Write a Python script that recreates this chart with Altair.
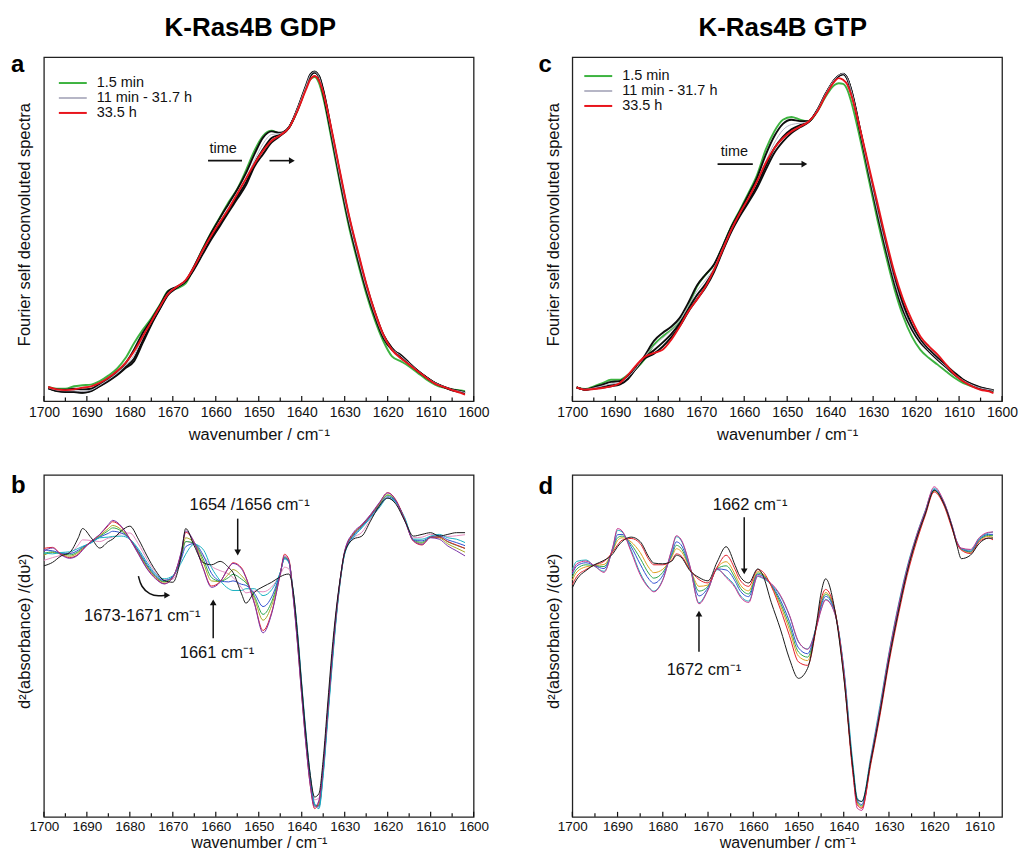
import altair as alt
import pandas as pd

# ---------------- data (y in % of plot height) ----------------
TOP_WN = [1699, 1697, 1695, 1693, 1691, 1689, 1687, 1685, 1683, 1681,
          1679, 1677, 1675, 1673, 1671, 1669, 1667, 1665, 1663, 1661,
          1659, 1657, 1655, 1653, 1651, 1649, 1647, 1645, 1643, 1641,
          1639, 1638, 1637, 1636, 1635,
          1633, 1631, 1629, 1627, 1625, 1623, 1621, 1619, 1617, 1615,
          1613, 1611, 1609, 1607, 1605, 1603, 1602]

# panel a : K-Ras4B GDP, FSD spectra
A_GREEN = [4.1, 3.6, 3.6, 4.3, 4.6, 4.8, 5.8, 7.4, 9.4, 12.5,
           16.9, 20.7, 24.1, 28.0, 32.1, 32.8, 34.2, 39.1, 44.4, 49.2,
           53.5, 57.9, 61.7, 67.0, 72.8, 77.1, 78.6, 77.8, 79.4, 84.4,
           91.1, 93.5, 94.2, 92.5, 88.2,
           75.7, 62.7, 50.6, 40.5, 31.3, 23.6, 17.4, 13.0, 11.6, 10.1,
           8.2, 6.3, 4.8, 3.9, 3.4, 3.1, 2.9]
A_K1 = [4.0, 3.4, 3.3, 3.6, 3.4, 3.6, 5.0, 6.6, 8.6, 11.0,
        15.0, 19.8, 23.6, 27.8, 32.0, 33.3, 35.0, 39.3, 44.2, 49.0,
        53.3, 57.4, 61.5, 66.2, 71.8, 76.6, 78.4, 78.0, 79.6, 85.0,
        91.8, 95.0, 95.8, 94.1, 89.2,
        76.7, 63.6, 51.6, 41.5, 32.3, 24.6, 18.3, 14.9, 13.5, 11.1,
        8.8, 6.9, 5.3, 4.2, 3.4, 2.9, 2.6]
A_W = [3.9, 3.2, 3.0, 3.0, 2.8, 3.2, 4.6, 6.2, 8.0, 10.3,
       13.4, 18.5, 23.0, 27.3, 31.6, 33.2, 35.0, 39.0, 43.6, 48.2,
       52.4, 56.3, 60.3, 64.6, 70.0, 74.8, 77.5, 77.8, 79.6, 85.0,
       91.6, 94.8, 95.7, 94.3, 89.8,
       77.4, 64.4, 52.4, 42.3, 33.0, 25.2, 18.8, 15.2, 13.2, 11.0,
       8.8, 6.9, 5.3, 4.2, 3.3, 2.8, 2.5]
A_K2 = [3.8, 3.0, 2.8, 2.7, 2.5, 3.0, 4.4, 6.0, 7.7, 9.9,
        12.4, 17.6, 22.6, 27.0, 31.3, 33.1, 34.9, 38.7, 43.2, 47.6,
        51.7, 55.6, 59.5, 63.5, 69.0, 73.2, 76.5, 77.5, 79.5, 84.8,
        91.4, 94.6, 95.6, 94.5, 90.2,
        77.8, 65.0, 53.0, 42.8, 33.5, 25.6, 19.1, 15.3, 13.0, 10.9,
        8.8, 6.9, 5.2, 4.1, 3.2, 2.7, 2.4]
A_K3 = [3.7, 2.9, 2.6, 2.6, 2.4, 2.9, 4.3, 5.8, 7.5, 9.6,
        11.6, 16.9, 22.2, 26.8, 31.0, 33.0, 34.8, 38.4, 42.8, 47.1,
        51.0, 55.0, 58.8, 62.7, 68.2, 71.8, 75.2, 77.1, 79.4, 84.6,
        91.2, 94.5, 95.5, 94.6, 90.5,
        78.2, 65.5, 53.5, 43.3, 33.9, 25.9, 19.3, 15.4, 12.8, 10.8,
        8.7, 6.9, 5.2, 4.1, 3.1, 2.6, 2.3]
A_RED = [4.1, 3.4, 3.2, 3.4, 3.9, 4.3, 5.3, 6.8, 8.7, 11.1,
         14.5, 18.8, 23.1, 27.5, 31.3, 33.3, 35.2, 39.1, 43.9, 48.2,
         52.1, 55.9, 60.3, 64.6, 69.0, 72.8, 75.7, 77.3, 79.4, 84.4,
         90.6, 93.5, 94.5, 93.2, 89.7,
         78.6, 66.1, 54.0, 43.9, 34.2, 26.0, 19.3, 14.9, 12.5, 10.6,
         8.7, 6.8, 5.1, 4.1, 3.2, 2.4, 1.9]

# panel c : K-Ras4B GTP, FSD spectra
C_GREEN = [4.0, 3.5, 4.3, 5.2, 6.2, 6.2, 7.7, 9.6, 12.5, 16.4,
           18.8, 20.7, 23.2, 27.5, 33.3, 36.7, 39.6, 45.0, 50.8, 55.6,
           60.5, 65.8, 73.1, 78.4, 81.8, 82.6, 81.8, 81.3, 84.2, 88.6,
           91.9, 92.4, 92.2, 90.5, 86.6,
           76.0, 64.3, 52.7, 42.1, 32.4, 24.6, 18.8, 14.9, 12.5, 10.6,
           8.6, 6.7, 5.2, 4.3, 3.5, 3.1, 3.0]
C_K1 = [4.0, 3.4, 4.0, 4.8, 5.6, 5.8, 7.4, 9.8, 13.5, 17.5,
        19.8, 21.6, 24.2, 28.6, 33.6, 36.8, 39.8, 45.0, 50.6, 55.2,
        60.0, 65.0, 71.6, 77.0, 80.6, 81.8, 81.4, 81.4, 84.6, 89.4,
        93.4, 94.6, 95.2, 93.6, 89.5,
        78.0, 66.0, 54.4, 43.8, 34.0, 26.2, 20.8, 17.0, 14.4, 12.0,
        9.8, 7.6, 5.8, 4.6, 3.7, 3.2, 3.0]
C_W = [4.0, 3.4, 3.8, 4.4, 5.0, 5.3, 7.0, 9.8, 13.2, 16.0,
       18.3, 20.5, 23.4, 27.6, 32.0, 35.2, 38.8, 44.4, 50.0, 54.6,
       59.0, 63.6, 69.6, 75.0, 78.8, 80.4, 80.8, 81.3, 84.6, 89.5,
       93.5, 94.7, 95.2, 93.8, 89.8,
       78.4, 66.6, 55.2, 44.6, 34.8, 27.0, 21.4, 17.4, 14.6, 12.2,
       10.0, 7.8, 6.0, 4.7, 3.8, 3.3, 3.1]
C_K2 = [4.0, 3.3, 3.7, 4.1, 4.6, 5.0, 6.7, 9.8, 12.8, 14.8,
        17.0, 19.5, 22.6, 26.8, 30.8, 34.0, 38.2, 44.0, 49.6, 54.2,
        58.4, 62.8, 68.3, 73.5, 76.8, 79.0, 80.2, 81.2, 84.5, 89.4,
        93.4, 94.6, 95.1, 93.8, 90.0,
        78.6, 67.0, 55.8, 45.2, 35.4, 27.6, 21.8, 17.6, 14.8, 12.4,
        10.2, 8.0, 6.1, 4.8, 3.9, 3.3, 3.1]
C_K3 = [4.0, 3.3, 3.6, 3.9, 4.3, 4.8, 6.5, 9.8, 12.5, 13.8,
        15.8, 18.5, 21.8, 26.0, 29.6, 33.0, 37.6, 43.6, 49.2, 53.8,
        57.8, 62.0, 67.2, 72.1, 75.4, 77.9, 79.6, 81.1, 84.4, 89.3,
        93.3, 94.5, 95.0, 93.8, 90.1,
        78.8, 67.4, 56.4, 45.8, 36.0, 28.2, 22.2, 17.8, 15.0, 12.6,
        10.4, 8.2, 6.2, 4.9, 4.0, 3.4, 3.2]
C_RED = [4.0, 3.3, 3.5, 3.8, 4.3, 5.2, 7.7, 10.6, 13.0, 14.0,
         14.9, 17.8, 21.7, 26.1, 29.5, 33.3, 38.2, 44.0, 49.8, 54.7,
         59.0, 63.9, 69.2, 73.5, 76.4, 78.4, 79.8, 81.3, 84.2, 89.0,
         92.9, 93.9, 93.4, 92.0, 88.6,
         78.9, 68.2, 57.6, 46.9, 37.2, 29.5, 23.6, 18.8, 15.9, 13.5,
         10.6, 7.7, 5.7, 4.3, 3.3, 2.8, 2.3]

# panel b : K-Ras4B GDP, second derivative spectra
B_WN = [1700, 1698, 1696, 1694, 1692, 1691, 1689, 1687, 1685, 1684,
        1682, 1680, 1678, 1676, 1674, 1672, 1670, 1668, 1667, 1665,
        1663, 1661, 1659, 1657, 1656, 1654, 1653, 1651, 1649, 1647,
        1645, 1644, 1643, 1642, 1641, 1640, 1639, 1638, 1637, 1636,
        1635, 1634, 1633, 1632, 1631, 1630, 1628, 1626, 1624, 1622,
        1620, 1618, 1616, 1614, 1612, 1610, 1608, 1606, 1604, 1602]
B_PURPLE = [77.8, 78.6, 76.6, 75.6, 76.6, 78.0, 80.5, 82.6, 85.5, 86.7,
            85.0, 81.2, 76.8, 72.5, 69.6, 68.1, 70.0, 77.8, 83.6, 80.2,
            72.9, 67.1, 68.6, 72.9, 74.1, 72.5, 70.0, 62.3, 53.8, 59.4,
            71.0, 76.3, 74.9, 64.3, 50.7, 35.3, 20.8, 9.2, 2.9, 4.8,
            15.0, 30.4, 45.9, 59.4, 70.0, 77.8, 83.1, 85.5, 88.4, 91.8,
            94.7, 92.3, 86.5, 80.7, 79.7, 81.6, 81.2, 79.2, 77.8, 76.3]
B_RED = [78.5, 78.8, 76.8, 75.8, 76.8, 78.2, 80.6, 82.5, 85.2, 86.3,
         84.8, 81.3, 77.0, 72.7, 69.8, 68.2, 70.0, 77.5, 83.2, 80.2,
         73.0, 67.5, 68.8, 72.8, 74.3, 72.8, 70.2, 62.5, 54.5, 59.8,
         71.0, 76.8, 75.3, 64.8, 51.0, 35.6, 21.0, 9.0, 2.4, 4.5,
         14.8, 30.0, 45.5, 59.0, 69.8, 77.6, 82.8, 85.3, 88.2, 91.6,
         94.8, 92.5, 86.8, 80.6, 79.5, 81.8, 81.8, 80.5, 79.5, 78.5]
B_OLIVE = [76.5, 77.3, 76.8, 76.2, 77.3, 78.5, 80.4, 82.2, 84.3, 85.2,
           84.0, 81.2, 77.3, 73.2, 70.1, 68.6, 70.2, 76.9, 81.6, 80.0,
           74.7, 69.0, 68.8, 71.0, 72.3, 70.5, 69.0, 63.8, 57.5, 61.8,
           71.2, 75.9, 74.7, 64.9, 51.9, 36.4, 21.9, 10.0, 3.2, 3.7,
           13.9, 29.3, 44.8, 58.6, 69.6, 77.4, 82.6, 85.2, 88.1, 91.4,
           94.2, 92.2, 86.8, 80.8, 80.0, 81.7, 81.6, 79.8, 78.6, 77.4]
B_GREEN = [77.0, 77.5, 77.0, 76.6, 77.6, 78.7, 80.3, 82.0, 83.7, 84.5,
           83.6, 81.2, 77.5, 73.4, 70.3, 68.8, 70.2, 76.4, 80.5, 80.0,
           75.6, 70.0, 68.9, 70.0, 70.9, 69.5, 68.5, 64.5, 59.2, 62.9,
           71.3, 75.8, 74.6, 65.2, 52.6, 37.1, 22.6, 10.6, 3.4, 3.3,
           13.4, 28.9, 44.4, 58.4, 69.5, 77.3, 82.4, 85.0, 87.9, 91.1,
           94.0, 92.1, 86.9, 80.9, 80.3, 81.8, 81.9, 80.4, 79.4, 78.5]
B_BLUE = [78.0, 77.8, 77.1, 77.0, 78.0, 78.9, 80.2, 81.8, 82.9, 83.5,
          83.0, 81.2, 77.8, 73.8, 70.6, 69.1, 70.3, 75.6, 79.0, 79.9,
          76.7, 71.2, 69.0, 68.7, 69.0, 68.0, 67.7, 65.3, 61.5, 64.3,
          71.4, 75.6, 74.5, 65.6, 53.4, 37.9, 23.3, 11.2, 3.6, 2.9,
          12.9, 28.4, 43.9, 58.1, 69.4, 77.1, 82.1, 84.8, 87.8, 90.8,
          93.6, 92.0, 87.1, 81.0, 80.7, 81.9, 82.2, 81.0, 80.2, 79.3]
B_CYAN = [77.2, 76.9, 77.3, 77.5, 78.5, 79.1, 80.1, 81.6, 81.8, 82.0,
          82.1, 81.2, 78.3, 74.4, 71.0, 69.6, 70.5, 74.4, 76.8, 79.7,
          78.3, 72.9, 69.1, 66.7, 66.2, 66.2, 66.7, 66.7, 64.7, 66.4,
          71.5, 75.4, 74.4, 66.2, 54.6, 39.1, 24.6, 12.1, 3.9, 2.4,
          12.1, 27.5, 43.0, 57.5, 69.1, 76.8, 81.6, 84.5, 87.4, 90.3,
          93.2, 91.8, 87.4, 81.2, 81.2, 82.1, 82.6, 81.6, 81.2, 80.2]
B_PINK = [75.0, 75.8, 76.5, 77.0, 79.5, 81.0, 80.8, 80.5, 81.5, 81.8,
          82.8, 83.0, 79.8, 75.3, 71.5, 69.3, 69.5, 75.6, 80.5, 79.5,
          76.4, 73.3, 72.0, 71.0, 70.0, 67.0, 65.5, 66.0, 65.8, 67.2,
          70.8, 73.0, 72.5, 66.0, 54.0, 38.5, 24.0, 12.0, 5.0, 5.5,
          15.0, 30.0, 45.5, 59.0, 69.6, 77.0, 81.5, 83.2, 87.0, 90.5,
          93.2, 91.5, 86.8, 81.6, 81.8, 82.6, 82.3, 82.0, 82.2, 82.5]
B_BLACK = [73.4, 74.4, 76.3, 77.3, 81.6, 84.3, 81.6, 78.6, 80.5, 81.2,
           83.6, 85.0, 81.2, 76.3, 72.0, 69.1, 68.6, 76.8, 84.3, 79.2,
           74.4, 73.7, 74.7, 72.9, 71.5, 65.2, 62.5, 65.7, 67.3, 68.6,
           70.2, 70.8, 71.0, 66.2, 53.6, 38.2, 23.7, 12.1, 5.8, 6.8,
           16.9, 32.4, 47.8, 60.4, 70.0, 77.3, 81.2, 82.1, 86.5, 90.8,
           93.2, 91.3, 86.5, 82.1, 82.6, 83.1, 82.1, 82.6, 83.1, 83.1]

# panel d : K-Ras4B GTP, second derivative spectra
D_WN = [1700, 1699, 1697, 1695, 1693, 1691, 1690, 1689, 1687, 1685,
        1683, 1682, 1680, 1678, 1677, 1676, 1674, 1672, 1670, 1668,
        1666, 1664, 1663, 1661, 1659, 1658, 1656, 1654, 1652, 1650,
        1648, 1646, 1645, 1644, 1642, 1640, 1638, 1637, 1636, 1634,
        1632, 1630, 1628, 1626, 1624, 1622, 1620, 1618, 1616, 1615,
        1614, 1612, 1610, 1608, 1607]
D_RED = [67.9, 70.3, 72.3, 73.7, 74.7, 77.6, 79.5, 80.9, 81.4, 79.9,
         75.1, 73.7, 73.7, 75.1, 76.9, 76.4, 72.3, 69.4, 68.4, 73.0,
         76.5, 72.3, 69.4, 67.4, 72.3, 71.8, 67.4, 60.7, 53.0, 45.3,
         44.3, 55.9, 63.6, 66.5, 60.7, 41.4, 13.0, 3.5, 2.5, 15.5,
         29.5, 45.0, 58.5, 70.5, 80.0, 88.0, 95.0, 91.5, 84.0, 80.0,
         78.0, 77.0, 80.5, 81.5, 81.0]
D_ORANGE = [69.2, 71.6, 73.1, 73.5, 73.8, 78.0, 80.8, 81.6, 80.4, 77.3,
            72.7, 71.4, 72.4, 76.0, 78.4, 77.7, 72.6, 67.4, 67.8, 72.8,
            74.6, 70.8, 68.1, 66.1, 71.7, 71.2, 67.6, 61.8, 54.7, 47.0,
            45.7, 55.9, 62.7, 65.6, 60.4, 42.0, 13.8, 4.0, 2.8, 16.0,
            30.2, 45.9, 59.4, 71.3, 80.6, 88.5, 95.3, 91.8, 84.3, 80.2,
            78.2, 77.3, 80.8, 82.0, 81.7]
D_GREEN = [70.1, 72.5, 73.7, 73.4, 73.2, 78.3, 81.6, 82.1, 79.7, 75.6,
           71.0, 69.8, 71.5, 76.5, 79.4, 78.6, 72.7, 66.0, 67.4, 72.6,
           73.4, 69.8, 67.2, 65.2, 71.3, 70.8, 67.7, 62.6, 55.9, 48.2,
           46.7, 55.9, 62.2, 65.1, 60.2, 42.5, 14.3, 4.4, 3.2, 16.4,
           30.7, 46.5, 60.0, 71.8, 81.0, 88.8, 95.5, 92.0, 84.5, 80.3,
           78.3, 77.5, 81.0, 82.3, 82.2]
D_BLUE = [71.0, 73.4, 74.3, 73.4, 72.6, 78.6, 82.5, 82.6, 79.0, 73.9,
          69.4, 68.3, 70.6, 77.1, 80.4, 79.6, 72.9, 64.6, 67.0, 72.5,
          72.2, 68.9, 66.3, 64.4, 70.9, 70.4, 67.8, 63.4, 57.1, 49.4,
          47.7, 55.9, 61.6, 64.5, 60.0, 43.0, 14.8, 4.8, 3.6, 16.8,
          31.2, 47.1, 60.6, 72.3, 81.4, 89.1, 95.7, 92.2, 84.7, 80.4,
          78.4, 77.7, 81.2, 82.6, 82.6]
D_CYAN = [72.3, 74.7, 75.1, 73.2, 71.8, 79.0, 83.8, 83.3, 78.0, 71.3,
          67.0, 66.0, 69.4, 78.0, 81.9, 80.9, 73.2, 62.6, 66.5, 72.3,
          70.3, 67.4, 65.0, 63.1, 70.3, 69.8, 67.9, 64.5, 58.8, 51.1,
          49.1, 55.9, 60.7, 63.6, 59.7, 43.8, 16.0, 5.5, 4.5, 17.8,
          32.5, 48.0, 61.5, 73.0, 82.0, 89.5, 96.0, 92.5, 85.0, 80.5,
          78.5, 78.0, 81.5, 83.0, 83.3]
D_MAGENTA = [71.5, 74.0, 74.8, 73.3, 71.5, 79.2, 84.3, 83.6, 77.5, 70.8,
             66.8, 65.8, 69.2, 78.3, 82.2, 81.2, 73.4, 62.3, 66.3, 72.5,
             70.0, 67.0, 64.6, 62.7, 70.5, 70.0, 68.2, 64.8, 59.0, 51.3,
             49.0, 55.5, 60.5, 63.4, 59.5, 43.0, 13.5, 2.5, 1.9, 17.0,
             31.5, 47.5, 61.0, 72.5, 81.8, 89.3, 96.5, 92.6, 85.0, 80.5,
             78.6, 78.2, 81.7, 83.2, 83.3]
D_BLACK = [67.0, 69.5, 72.0, 73.8, 75.0, 77.0, 79.0, 80.5, 81.8, 80.5,
           75.8, 74.2, 74.0, 74.8, 76.5, 76.0, 72.0, 70.0, 69.0, 74.5,
           79.0, 73.5, 70.5, 68.4, 72.5, 71.0, 62.6, 54.9, 46.2, 40.5,
           43.4, 56.8, 65.5, 69.6, 60.7, 41.0, 14.5, 5.0, 4.5, 16.5,
           30.5, 46.0, 59.5, 71.5, 81.0, 88.5, 95.5, 92.0, 84.5, 79.5,
           75.5, 76.5, 80.0, 81.5, 81.5]

SERIES = ["1.5 min", "11 min - 31.7 h", "33.5 h"]
SERIES_COLORS = ["#3db340", "#b6b6c6", "#e8141c"]

FONT = "Liberation Sans"
INK = "#111111"
TOP_H = 345
BOT_H = 343


def long_df(wn, named, series=None):
    rows = []
    for name, vals in named:
        for w, v in zip(wn, vals):
            rows.append({"wn": w, "v": v, "curve": name, "series": series})
    return pd.DataFrame(rows)


def encoders(domain, label_vals, ytitle, ytitle_y, label_size, label_pad, title_pad, title_size):
    sc_x = alt.Scale(domain=domain, reverse=True, nice=False, zero=False)
    ax_x = alt.Axis(values=label_vals, format="d", ticks=False, domain=False, grid=False,
                    labelFontSize=label_size, labelFont=FONT, labelColor=INK, labelPadding=label_pad,
                    labelFlush=False, labelOverlap=False,
                    title="wavenumber / cm\u207b\u00b9", titleFont=FONT, titleFontSize=title_size,
                    titleFontWeight="normal", titleColor=INK, titlePadding=title_pad)
    sc_y = alt.Scale(domain=[0, 100], nice=False, zero=False)
    ax_y = alt.Axis(labels=False, ticks=False, domain=False, grid=False,
                    title=ytitle, titleFont=FONT, titleFontSize=16.5, titleFontWeight="normal",
                    titleColor=INK, titlePadding=11, titleY=ytitle_y)

    def X(f):
        return alt.X(f"{f}:Q", scale=sc_x, axis=ax_x)

    def Y(f):
        return alt.Y(f"{f}:Q", scale=sc_y, axis=ax_y)
    return X, Y


def tick_layers(X, tick_vals, height):
    df = pd.DataFrame({"wn": tick_vals})
    major = df[df["wn"] % 10 == 0]
    minor = df[df["wn"] % 10 != 0]
    l1 = alt.Chart(major).mark_rule(color=INK, strokeWidth=1.2).encode(
        x=X("wn"), y=alt.value(height), y2=alt.value(height - 5))
    l2 = alt.Chart(minor).mark_rule(color=INK, strokeWidth=1.2).encode(
        x=X("wn"), y=alt.value(height), y2=alt.value(height - 3.5))
    return [l1, l2]


def label_layer(text, x, y, size, align="left"):
    return alt.Chart(pd.DataFrame({"t": [text]})).mark_text(
        font=FONT, fontSize=size, fontWeight="bold", color="black",
        align=align, baseline="top").encode(
        text="t:N", x=alt.value(x), y=alt.value(y))


def top_panel(letter, lx, ly, heading, hx, green, blacks, greys, red,
              time_pos, time_line, time_arrow, width, leg_x, leg_y, row_pad):
    height = TOP_H
    X, Y = encoders([1600, 1700], list(range(1600, 1701, 10)),
                    "Fourier self deconvoluted spectra", height / 2 - 5, 14, 4, 8, 16.5)
    cscale = alt.Scale(domain=SERIES, range=SERIES_COLORS)
    legend = alt.Legend(title=None, orient="none", legendX=leg_x, legendY=leg_y,
                        symbolType="M-2,0H2", symbolSize=196, symbolStrokeWidth=2,
                        labelFont=FONT, labelFontSize=14.5, labelColor=INK,
                        labelOffset=16, rowPadding=row_pad, padding=0)
    col = alt.Color("series:N", scale=cscale, legend=legend)

    g_df = long_df(TOP_WN, [("green", green)], SERIES[0])
    k_df = long_df(TOP_WN, blacks, SERIES[1])
    w_df = long_df(TOP_WN, greys, SERIES[1])
    r_df = long_df(TOP_WN, [("red", red)], SERIES[2])

    layers = []
    layers.append(alt.Chart(g_df).mark_line(interpolate="monotone", strokeWidth=1.9).encode(
        x=X("wn"), y=Y("v"), color=col, detail="curve:N"))
    layers.append(alt.Chart(k_df).mark_line(interpolate="monotone", strokeWidth=1.9, color="#0d0d0d").encode(
        x=X("wn"), y=Y("v"), detail="curve:N"))
    layers.append(alt.Chart(w_df).mark_line(interpolate="monotone", strokeWidth=1.0).encode(
        x=X("wn"), y=Y("v"), color=col, detail="curve:N"))
    layers.append(alt.Chart(r_df).mark_line(interpolate="monotone", strokeWidth=1.9).encode(
        x=X("wn"), y=Y("v"), color=col, detail="curve:N"))

    # "time ——  →" annotation
    layers.append(alt.Chart(pd.DataFrame({"wn": [time_pos[0]], "v": [time_pos[1]], "t": ["time"]}))
                  .mark_text(font=FONT, fontSize=14.5, color=INK, baseline="middle")
                  .encode(x=X("wn"), y=Y("v"), text="t:N"))
    layers.append(alt.Chart(pd.DataFrame({"wn": [time_line[0]], "wn2": [time_line[1]], "v": [time_line[2]]}))
                  .mark_rule(color=INK, strokeWidth=1.6)
                  .encode(x=X("wn"), x2="wn2", y=Y("v")))
    layers.append(alt.Chart(pd.DataFrame({"wn": [time_arrow[0]], "wn2": [time_arrow[1]], "v": [time_arrow[2]]}))
                  .mark_rule(color=INK, strokeWidth=1.6)
                  .encode(x=X("wn"), x2="wn2", y=Y("v")))
    layers.append(alt.Chart(pd.DataFrame({"wn": [time_arrow[1]], "v": [time_arrow[2]]}))
                  .mark_point(shape="triangle-right", filled=True, size=45, color=INK, opacity=1)
                  .encode(x=X("wn"), y=Y("v")))

    layers += tick_layers(X, list(range(1600, 1701, 5)), height)
    layers.append(label_layer(letter, lx, ly, 24))
    layers.append(label_layer(heading, hx, -42, 26, align="center"))
    return alt.layer(*layers).properties(width=width, height=height)


def bottom_panel(letter, lx, ly, wn, colored, black, domain, label_vals, tick_vals,
                 texts, vrules, heads, curve_pts, width):
    height = BOT_H
    X, Y = encoders(domain, label_vals, "d\u00b2(absorbance) /(d\u03c5\u00b2)",
                    height / 2 - 15, 13.5, 3, 1, 16)
    names = [n for n, _, _ in colored]
    colors = [c for _, _, c in colored]
    c_df = long_df(wn, [(n, v) for n, v, _ in colored])
    layers = []
    layers.append(alt.Chart(c_df).mark_line(interpolate="monotone", strokeWidth=1.0).encode(
        x=X("wn"), y=Y("v"),
        color=alt.Color("curve:N", scale=alt.Scale(domain=names, range=colors), legend=None)))
    layers.append(alt.Chart(long_df(wn, [("black", black)])).mark_line(
        interpolate="monotone", strokeWidth=1.0, color="#1a1a1a").encode(x=X("wn"), y=Y("v")))

    layers.append(alt.Chart(pd.DataFrame(texts, columns=["wn", "v", "t"]))
                  .mark_text(font=FONT, fontSize=16.5, color=INK, baseline="middle")
                  .encode(x=X("wn"), y=Y("v"), text="t:N"))
    layers.append(alt.Chart(pd.DataFrame(vrules, columns=["wn", "v", "v2"]))
                  .mark_rule(color=INK, strokeWidth=1.5)
                  .encode(x=X("wn"), y=Y("v"), y2="v2"))
    layers.append(alt.Chart(pd.DataFrame(heads, columns=["wn", "v", "shape"]))
                  .mark_point(filled=True, size=45, color=INK, opacity=1)
                  .encode(x=X("wn"), y=Y("v"), shape=alt.Shape("shape:N", scale=None)))
    if curve_pts:
        cp = pd.DataFrame(curve_pts, columns=["wn", "v"])
        cp["i"] = range(len(cp))
        layers.append(alt.Chart(cp).mark_line(interpolate="basis", color=INK, strokeWidth=1.5)
                      .encode(x=X("wn"), y=Y("v"), order="i:Q"))
    layers += tick_layers(X, tick_vals, height)
    layers.append(label_layer(letter, lx, ly, 24))
    return alt.layer(*layers).properties(width=width, height=height)


pa = top_panel("a", -33, -4, "K-Ras4B GDP", 207, A_GREEN,
               [("k1", A_K1), ("k2", A_K2), ("k3", A_K3)], [("w1", A_W)], A_RED,
               (1658.3, 73.3), (1661.8, 1653.9, 69.9), (1647.5, 1642.3, 69.9),
               431, 21, 18, -1.5)
pc = top_panel("c", -34, -4, "K-Ras4B GTP", 211, C_GREEN,
               [("k1", C_K1), ("k2", C_K2), ("k3", C_K3)], [("w1", C_W)], C_RED,
               (1662.3, 72.4), (1666.2, 1658.0, 68.9), (1651.8, 1646.0, 68.9),
               431, 18, 11, 0)

pb = bottom_panel(
    "b", -33, -1, B_WN,
    [("pink", B_PINK, "#e48cc0"), ("olive", B_OLIVE, "#a8a824"), ("green", B_GREEN, "#2ea84e"),
     ("blue", B_BLUE, "#3050d0"), ("cyan", B_CYAN, "#18b0c0"), ("red", B_RED, "#e0202c"),
     ("purple", B_PURPLE, "#7a34a8")],
    B_BLACK, [1600, 1700], list(range(1600, 1701, 10)), list(range(1600, 1701, 5)),
    [(1652.1, 91.3, "1654 /1656 cm\u207b\u00b9"), (1677.1, 58.8, "1673-1671 cm\u207b\u00b9"),
     (1659.7, 47.8, "1661 cm\u207b\u00b9")],
    [(1654.9, 87.2, 77.5), (1660.6, 52.2, 62.5)],
    [(1654.9, 77.3, "triangle-down"), (1660.6, 62.7, "triangle-up"), (1671.3, 64.8, "triangle-right")],
    [(1678.0, 70.4), (1677.4, 67.3), (1675.4, 65.0), (1673.2, 64.5), (1671.8, 64.8)],
    431)

pd_ = bottom_panel(
    "d", -34, 0, D_WN,
    [("orange", D_ORANGE, "#e0a020"), ("green", D_GREEN, "#2ea84e"), ("blue", D_BLUE, "#3050d0"),
     ("cyan", D_CYAN, "#18b0b8"), ("magenta", D_MAGENTA, "#c8308e"), ("red", D_RED, "#e0202c")],
    D_BLACK, [1605, 1700], list(range(1610, 1701, 10)), list(range(1610, 1701, 5)),
    [(1660.7, 91.3, "1662 cm\u207b\u00b9"), (1670.9, 42.8, "1672 cm\u207b\u00b9")],
    [(1662.0, 87.6, 72.0), (1672.0, 48.3, 59.2)],
    [(1662.0, 71.8, "triangle-down"), (1672.0, 59.4, "triangle-up")],
    None, 431)

top = alt.hconcat(pa, pc, spacing=47).resolve_scale(color="independent")
bot = alt.hconcat(pb, pd_, spacing=48).resolve_scale(color="independent")
chart = (alt.vconcat(top, bot, spacing=28)
         .resolve_scale(color="independent")
         .properties(padding={"left": 2, "top": 5, "right": 0, "bottom": 0})
         .configure(font=FONT, background="white")
         .configure_view(stroke="#222222", strokeWidth=1.3))

chart.save("out.html", embed_options={"renderer": "svg", "actions": False})
